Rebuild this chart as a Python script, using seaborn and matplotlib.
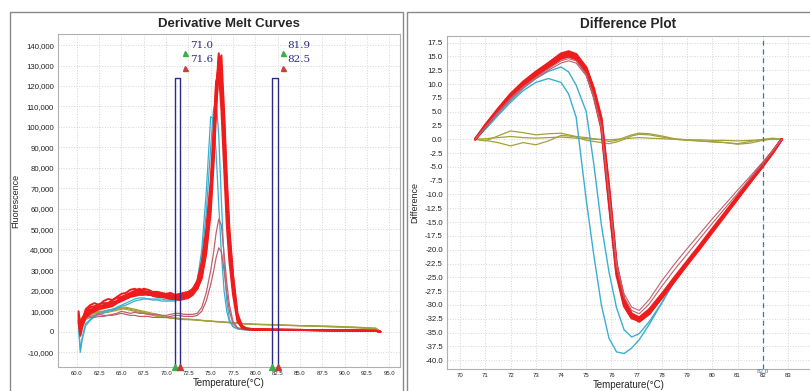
import numpy as np
import pandas as pd
import matplotlib
matplotlib.use("Agg")
import matplotlib.pyplot as plt
from matplotlib.patches import Rectangle
import seaborn as sns

# ---------------- data: derivative melt curves (fluorescence in thousands) ----------------
T_MELT = [60.2, 60.4, 60.6, 61.0, 61.5, 62.0, 62.5, 63.0, 63.5, 64.0, 64.5, 65.0, 65.5, 66.0,
          66.5, 67.0, 67.5, 68.0, 68.5, 69.0, 69.5, 70.0, 70.5, 71.0, 71.5, 72.0, 72.5, 73.0,
          73.5, 74.0, 74.5, 75.0, 75.3, 75.6, 75.9, 76.2, 76.5, 76.8, 77.1, 77.5, 78.0, 78.5,
          79.0, 80.0, 82.0, 85.0, 88.0, 91.0, 93.5, 94.0]

melt_red = [
    [9, 1, 4, 8, 10, 11, 12, 12.5, 13, 14, 15, 16.5, 17.5, 18.5, 19.5, 20, 19.5, 19.5, 19, 18.5,
     18, 18, 17.5, 17.5, 17.5, 18, 18.5, 20, 23, 30, 44, 66, 88, 116, 136, 124, 100, 68, 46, 25,
     7, 2.5, 1.5, 1.1, 1.0, 0.9, 0.8, 0.6, 0.5, 0],
    [6, -1, 3, 9, 11, 10, 12, 13, 12.5, 13, 15, 17, 16.5, 18, 19, 18.5, 19, 18, 18.5, 17.5,
     17, 17.5, 17, 16.5, 16.5, 17, 17.5, 19, 21, 27, 40, 62, 84, 112, 132, 120, 95, 64, 42, 22,
     6, 2, 1.3, 1.0, 0.9, 0.9, 0.7, 0.6, 0.4, 0],
    [4, 2, 6, 10, 12, 12.5, 13.5, 14, 14, 15.5, 16.5, 17, 18, 19, 20, 21, 20, 19.5, 19, 19,
     18.5, 18, 18, 17.5, 18, 18, 19, 21, 25, 34, 50, 74, 97, 122, 128, 108, 80, 52, 34, 18,
     5, 2, 1.3, 1.1, 1.0, 0.8, 0.7, 0.5, 0.4, 0],
    [10, 3, 5, 7, 9, 10, 11, 11.5, 12, 12.5, 14, 15, 16, 17, 17.5, 18, 18, 18.5, 17.5, 17,
     17, 16.5, 16, 16, 15.5, 16, 16.5, 18, 21, 28, 42, 64, 86, 114, 134, 126, 104, 72, 48, 27,
     8, 2.8, 1.6, 1.2, 1.0, 0.9, 0.8, 0.6, 0.5, 0],
    [7, 0, 5, 11, 13, 14, 13, 15, 16, 15.5, 17, 18.5, 19, 20.5, 21, 20, 21, 20.5, 19.5, 19.5,
     19, 18.5, 19, 18, 18.5, 19, 19.5, 21, 24, 32, 47, 70, 93, 120, 130, 116, 90, 60, 40, 21,
     6, 2.2, 1.4, 1.1, 1.0, 0.9, 0.7, 0.6, 0.5, 0],
    [8, 2, 6, 9, 10.5, 12, 12, 13, 14, 14.5, 15, 16, 17.5, 18, 18.5, 19, 19.5, 19, 18, 18,
     17.5, 17, 17.5, 17, 17, 17.5, 18, 19.5, 22, 29, 42, 64, 86, 110, 126, 116, 92, 62, 41, 22,
     6.5, 2.3, 1.4, 1.1, 1.0, 0.9, 0.7, 0.6, 0.4, 0],
    [5, -2, 2, 7, 9, 11.5, 12.5, 12, 13, 14, 14.5, 15.5, 16.5, 17.5, 18, 19, 18.5, 18, 18, 17.5,
     17.5, 17, 16.5, 17, 16.5, 17, 17.5, 19, 21, 26, 38, 58, 80, 106, 130, 135, 108, 76, 50, 28,
     9, 3, 1.7, 1.2, 1.0, 0.9, 0.8, 0.6, 0.5, 0],
]
melt_pink = [
    [5, 3, 5, 7, 7.5, 8, 8.5, 8, 8, 8.5, 9, 10, 9.5, 9, 9.5, 9, 9, 8.5, 8.5, 8.5,
     8, 8, 8.5, 9, 9, 8.5, 8.5, 8.5, 9, 12, 19, 30, 38, 48, 55, 52, 38, 24, 13, 5,
     2, 1.4, 1.1, 1.0, 0.9, 0.8, 0.7, 0.5, 0.4, 0],
    [3, 2, 4, 6, 7, 7, 7.5, 7.5, 8, 8, 8.5, 9, 8.5, 8, 8, 7.5, 7.5, 7.5, 7, 7,
     7, 7, 7.5, 8, 8, 7.5, 7.5, 7.5, 8, 10, 15, 23, 29, 36, 41, 39, 30, 19, 10, 4,
     1.8, 1.3, 1.0, 0.9, 0.8, 0.7, 0.6, 0.5, 0.3, 0],
]
melt_cyan = [
    [4, -9, -3, 4, 6, 8, 9, 10, 10.5, 11, 12, 13, 14, 15, 16, 16.5, 16.5, 16, 16, 16,
     16, 15.5, 15.5, 15.5, 16, 16, 17, 19, 25, 40, 68, 105, 104, 88, 62, 38, 20, 10, 5, 2.5,
     1.5, 1.1, 1.0, 0.9, 0.8, 0.7, 0.6, 0.5, 0.4, 0],
    [2, -10, -4, 3, 5.5, 7.5, 8.5, 9, 10, 10.5, 11.5, 12.5, 13, 14, 15, 15.5, 16, 16, 15.5, 15.5,
     15, 15, 15, 15, 15.5, 16, 17, 19, 24, 36, 58, 90, 108, 114, 96, 64, 34, 15, 6, 2.5,
     1.4, 1.1, 1.0, 0.9, 0.8, 0.7, 0.6, 0.5, 0.4, 0],
]
melt_olive = [
    [8, 6, 7, 8, 8.5, 9, 9.5, 10, 10.5, 11, 11.5, 11.5, 11, 10.5, 10, 9.5, 9, 8.5, 8, 7.5,
     7, 7, 6.5, 6.5, 6, 6, 6, 5.8, 5.6, 5.5, 5.3, 5.2, 5.1, 5.0, 5.0, 4.9, 4.8, 4.7, 4.6, 4.5,
     4.3, 4.1, 4.0, 3.7, 3.5, 3.0, 2.6, 2.2, 1.6, 0],
    [5, 4, 6, 7, 8, 9, 9, 9.5, 9.5, 10, 10.5, 11, 11.5, 11, 10.5, 10, 9.5, 9, 8.5, 8,
     7.5, 7, 7, 6.5, 6.5, 6, 6, 6, 5.8, 5.6, 5.4, 5.2, 5.1, 5.0, 4.9, 4.8, 4.7, 4.6, 4.5, 4.4,
     4.2, 4.0, 3.8, 3.6, 3.3, 2.9, 2.5, 2.0, 1.4, 0],
    [7, 5, 7, 8.5, 9, 9.5, 10, 10, 10.5, 10.5, 11, 12, 12, 11.5, 11, 10.5, 10, 9.5, 9, 8.5,
     8, 7.5, 7, 6.8, 6.5, 6.3, 6.2, 6.0, 5.8, 5.5, 5.3, 5.2, 5.0, 4.9, 4.8, 4.7, 4.6, 4.5, 4.4, 4.3,
     4.1, 3.9, 3.8, 3.6, 3.4, 3.0, 2.8, 2.3, 1.8, 0],
]

# melt region bars (start, end)
REGIONS = [(71.0, 71.6), (81.9, 82.5)]
REGION_TOP = 124000

# ---------------- data: difference plot ----------------
T_DIFF = [70.6, 71.0, 71.5, 72.0, 72.5, 73.0, 73.5, 74.0, 74.3, 74.6, 75.0, 75.3, 75.6, 75.9,
          76.2, 76.5, 76.8, 77.1, 77.5, 78.0, 78.5, 79.0, 79.5, 80.0, 80.5, 81.0, 81.5, 82.0,
          82.4, 82.75]

diff_red = [
    [0, 2.4, 5.2, 7.9, 10.0, 11.8, 13.4, 15.0, 15.5, 15.0, 12.5, 8.5, 3.0, -10.0, -23.5,
     -29.5, -32.0, -32.6, -31.0, -28.2, -25.3, -22.3, -19.4, -16.4, -13.5, -10.5, -7.5, -4.6, -2.2, 0],
    [0, 2.6, 5.5, 8.2, 10.4, 12.2, 13.8, 15.5, 15.9, 15.4, 13.0, 9.2, 3.8, -8.5, -22.5,
     -29.0, -31.8, -32.9, -31.5, -28.7, -25.6, -22.6, -19.7, -16.7, -13.7, -10.7, -7.7, -4.8, -2.4, 0],
    [0, 2.2, 5.0, 7.6, 9.8, 11.5, 13.0, 14.6, 15.0, 14.5, 12.0, 7.8, 2.0, -11.5, -24.5,
     -30.2, -32.4, -32.8, -31.3, -28.4, -25.5, -22.5, -19.5, -16.6, -13.6, -10.6, -7.6, -4.7, -2.3, 0],
    [0, 2.5, 5.3, 8.0, 10.2, 12.0, 13.6, 15.2, 15.7, 15.2, 12.8, 8.8, 3.4, -9.2, -23.0,
     -29.2, -31.6, -32.3, -30.8, -28.0, -25.0, -22.1, -19.2, -16.2, -13.3, -10.3, -7.3, -4.4, -2.1, 0],
    [0, 2.3, 5.1, 7.7, 9.9, 11.6, 13.2, 14.8, 15.2, 14.8, 12.2, 8.0, 2.5, -10.8, -24.0,
     -29.8, -32.2, -33.0, -31.6, -28.6, -25.7, -22.7, -19.8, -16.8, -13.8, -10.8, -7.8, -4.9, -2.4, 0],
]
diff_pink = [
    [0, 2.1, 4.7, 7.2, 9.3, 11.0, 12.5, 13.8, 14.2, 13.8, 11.5, 7.5, 2.0, -10.0, -22.5,
     -28.0, -30.4, -31.0, -29.0, -25.6, -22.6, -19.8, -17.1, -14.4, -11.8, -9.2, -6.7, -4.1, -2.0, 0],
    [0, 2.2, 4.9, 7.4, 9.5, 11.2, 12.8, 14.2, 14.6, 14.2, 11.8, 7.8, 2.4, -10.0, -23.0,
     -28.6, -31.0, -31.6, -29.8, -26.6, -23.6, -20.8, -18.0, -15.2, -12.5, -9.8, -7.1, -4.4, -2.1, 0],
]
diff_cyan = [
    [0, 2.0, 4.6, 7.0, 9.2, 11.0, 12.3, 13.1, 12.2, 9.8, 5.0, -4.5, -15.5, -24.0, -30.5,
     -34.5, -35.8, -35.2, -33.0, -29.6, -25.6, -22.6, -19.6, -16.6, -13.6, -10.6, -7.6, -4.7, -2.3, 0],
    [0, 1.8, 4.3, 6.7, 8.8, 10.3, 11.0, 10.3, 8.2, 4.0, -11.0, -21.0, -30.0, -36.0, -38.5,
     -38.8, -37.8, -36.3, -33.5, -29.6, -25.6, -22.6, -19.6, -16.6, -13.6, -10.6, -7.6, -4.7, -2.3, 0],
]
diff_olive = [
    [0, -0.3, 0.6, 1.5, 1.2, 0.8, 1.0, 1.1, 0.8, 0.5, 0.3, 0.1, -0.1, -0.4, -0.2,
     0.3, 0.8, 1.1, 1.0, 0.6, 0.1, -0.1, -0.3, -0.5, -0.6, -0.9, -0.7, -0.2, 0.1, 0],
    [0, -0.2, -0.6, -1.2, -0.6, -1.0, -0.3, 0.7, 0.6, 0.4, -0.2, -0.4, -0.6, -0.8, -0.5,
     0.0, 0.6, 0.9, 0.8, 0.4, 0.0, -0.2, -0.3, -0.4, -0.6, -0.8, -0.4, 0.0, 0.2, 0],
    [0, 0.1, 0.3, 0.5, 0.3, 0.2, 0.3, 0.4, 0.3, 0.2, 0.1, 0.0, 0.0, -0.1, 0.0,
     0.1, 0.2, 0.3, 0.2, 0.1, 0.0, -0.1, -0.1, -0.2, -0.2, -0.3, -0.2, -0.1, 0.0, 0],
]
DIFF_MARK = 82.0

# ---------------- style ----------------
RED = "#ee1c1c"
PINK = "#c0606e"
CYAN = "#3aaed0"
OLIVE = "#a4a03c"
NAVY = "#2a2a8a"
GRID = "#d4d4d4"

sns.set_style("whitegrid")
plt.rcParams["font.family"] = ["Liberation Sans", "DejaVu Sans"]

fig = plt.figure(figsize=(8.1, 3.91), dpi=100)
W, H = 810, 391

# panel frames
for x0, x1 in [(10, 403), (407, 812)]:
    fig.add_artist(Rectangle((x0 / W, -0.01), (x1 - x0) / W, 1 - 12 / H + 0.01,
                             transform=fig.transFigure, fill=False, ec="#8a8a8a", lw=1.0))

ax1 = fig.add_axes([58 / W, 1 - 367 / H, 342 / W, 333 / H])
ax2 = fig.add_axes([447 / W, 1 - 369 / H, 363 / W, 333 / H])


def draw_group(ax, x, curves, color, lw, scale=1.0):
    for y in curves:
        sns.lineplot(x=x, y=np.array(y) * scale, color=color, lw=lw, ax=ax,
                     estimator=None, sort=False)


# ---- left: derivative melt curves ----
draw_group(ax1, T_MELT, melt_olive, OLIVE, 0.9, 1000)
draw_group(ax1, T_MELT, melt_cyan, CYAN, 0.9, 1000)
draw_group(ax1, T_MELT, melt_pink, PINK, 0.9, 1000)
draw_group(ax1, T_MELT, melt_red, RED, 1.4, 1000)

ax1.set_xlim(57.9, 96.2)
ax1.set_ylim(-17200, 145400)
ax1.set_xticks(np.arange(60, 95.1, 2.5))
ax1.set_xticklabels([f"{v:.1f}" for v in np.arange(60, 95.1, 2.5)], fontsize=4.3)
ax1.set_yticks(np.arange(-10000, 140001, 10000))
ax1.set_yticklabels([f"{v:,.0f}" for v in np.arange(-10000, 140001, 10000)], fontsize=5.6)
ax1.set_xlabel("Temperature(°C)", fontsize=7, labelpad=1)
ax1.set_ylabel("Fluorescence", fontsize=6.5, labelpad=4)
ax1.set_title("Derivative Melt Curves", fontsize=9.5, fontweight="bold", pad=5)

# region bars with their start/end markers
y_bot = ax1.get_ylim()[0]
for lo, hi in REGIONS:
    ax1.plot([lo, lo, hi, hi], [y_bot, REGION_TOP, REGION_TOP, y_bot], color=NAVY, lw=1.0,
             clip_on=False, zorder=5)
    ax1.plot([lo], [y_bot], marker="^", ms=4, color="#3bb04a", clip_on=False, zorder=6)
    ax1.plot([hi], [y_bot], marker="^", ms=4, color="#c83a3a", clip_on=False, zorder=6)
    ax1.plot([hi + 0.55], [136000], marker="^", ms=3.6, color="#3bb04a", zorder=6)
    ax1.plot([hi + 0.55], [129000], marker="^", ms=3.6, color="#c84040", zorder=6)
    ax1.text(hi + 1.1, 140000, f"{lo:.1f}", fontsize=7.5, color=NAVY, va="center",
             family="DejaVu Serif")
    ax1.text(hi + 1.1, 133000, f"{hi:.1f}", fontsize=7.5, color=NAVY, va="center",
             family="DejaVu Serif")

# ---- right: difference plot ----
draw_group(ax2, T_DIFF, diff_olive, OLIVE, 0.9)
draw_group(ax2, T_DIFF, diff_cyan, CYAN, 1.0)
draw_group(ax2, T_DIFF, diff_red, RED, 1.8)
draw_group(ax2, T_DIFF, diff_pink, PINK, 0.8)

ax2.set_xlim(69.48, 83.87)
ax2.set_ylim(-41.6, 18.7)
ax2.set_xticks(range(70, 84))
ax2.set_xticklabels([str(v) for v in range(70, 84)], fontsize=4.3)
ax2.set_yticks(np.arange(-40, 17.6, 2.5))
ax2.set_yticklabels([f"{v:.1f}" for v in np.arange(-40, 17.6, 2.5)], fontsize=5.6)
ax2.set_xlabel("Temperature(°C)", fontsize=7, labelpad=1)
ax2.set_ylabel("Difference", fontsize=6.5, labelpad=4)
ax2.set_title("Difference Plot", fontsize=9.8, fontweight="bold", pad=6)
ax2.axvline(DIFF_MARK, color="#3a78a8", lw=0.9, ls=(0, (4, 3)), zorder=4)
ax2.text(DIFF_MARK, -41.6, f"{DIFF_MARK:.1f}", fontsize=4.5, color="#3a78b8",
         ha="center", va="top")

for ax in (ax1, ax2):
    ax.set_facecolor("white")
    ax.grid(True, color=GRID, ls=":", lw=0.7)
    for s in ax.spines.values():
        s.set_color("#b0b0b0")
        s.set_linewidth(0.8)
    ax.tick_params(length=1.5, pad=1.5, colors="#222222")
ax2.spines["right"].set_visible(False)

fig.savefig("out.png", dpi=100)
